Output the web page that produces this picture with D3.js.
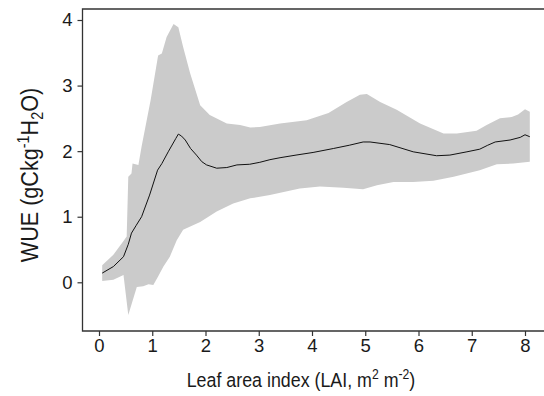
<!DOCTYPE html>
<html>
<head>
<meta charset="utf-8">
<script src="https://cdn.jsdelivr.net/npm/d3@7"></script>
<style>
  body { margin: 0; background: #fff; }
  text { font-family: "Liberation Sans", Arial, sans-serif; fill: #1a1a1a; }
</style>
</head>
<body>
<div id="chart"></div>
<script>
// DATA

// mean WUE line
let meanLai = [0.06, 0.27, 0.46, 0.55, 0.61, 0.70, 0.80, 0.95, 1.10, 1.18, 1.30, 1.44, 1.49, 1.55, 1.62, 1.72, 1.83, 1.93, 2.02, 2.21, 2.40, 2.59, 2.83, 3.02, 3.21, 3.40, 3.70, 4.02, 4.40, 4.70, 4.96, 5.09, 5.46, 5.90, 6.34, 6.59, 6.91, 7.15, 7.30, 7.44, 7.72, 7.91, 8.00, 8.09]
let meanWue = [0.14, 0.24, 0.39, 0.58, 0.75, 0.87, 1.00, 1.33, 1.71, 1.81, 1.99, 2.19, 2.26, 2.23, 2.17, 2.04, 1.94, 1.84, 1.79, 1.74, 1.75, 1.79, 1.80, 1.83, 1.87, 1.90, 1.94, 1.98, 2.04, 2.09, 2.14, 2.14, 2.10, 1.99, 1.93, 1.94, 1.99, 2.03, 2.09, 2.14, 2.17, 2.21, 2.25, 2.22]

// upper edge of the grey band
let upLai = [0.06, 0.27, 0.46, 0.52, 0.55, 0.61, 0.63, 0.74, 0.80, 0.97, 1.11, 1.18, 1.27, 1.40, 1.49, 1.58, 1.71, 1.90, 2.08, 2.40, 2.65, 2.84, 3.02, 3.40, 3.90, 4.31, 4.65, 4.90, 5.03, 5.28, 5.59, 6.03, 6.47, 6.72, 7.09, 7.28, 7.53, 7.75, 7.87, 8.00, 8.09]
let upWue = [0.26, 0.42, 0.63, 0.70, 1.61, 1.66, 1.81, 1.79, 2.07, 2.78, 3.46, 3.49, 3.74, 3.94, 3.89, 3.59, 3.19, 2.70, 2.55, 2.42, 2.40, 2.36, 2.37, 2.42, 2.47, 2.58, 2.75, 2.86, 2.87, 2.75, 2.63, 2.42, 2.27, 2.27, 2.31, 2.40, 2.50, 2.52, 2.56, 2.64, 2.60]

// lower edge of the grey band
let loLai = [0.06, 0.27, 0.46, 0.55, 0.71, 0.83, 0.93, 1.02, 1.11, 1.21, 1.33, 1.46, 1.58, 1.90, 2.21, 2.52, 2.84, 3.21, 3.77, 4.15, 4.59, 4.96, 5.22, 5.53, 5.90, 6.28, 6.66, 7.15, 7.47, 7.78, 8.09]
let loWue = [0.02, 0.04, 0.11, -0.50, -0.07, -0.06, -0.03, -0.04, 0.09, 0.24, 0.39, 0.64, 0.80, 0.92, 1.08, 1.20, 1.28, 1.33, 1.43, 1.46, 1.44, 1.42, 1.48, 1.53, 1.53, 1.55, 1.61, 1.71, 1.80, 1.81, 1.84]

let xTicks = [0, 1, 2, 3, 4, 5, 6, 7, 8]
let yTicks = [0, 1, 2, 3, 4]

// CHART AREA
let W = 544, H = 396
let plot = {left: 82.5, top: 9, right: 548, bottom: 331}

let svg = d3.select("#chart").append("svg")
    .attr("width", W)
    .attr("height", H)

// SCALES
let x = d3.scaleLinear().domain([0, 8]).range([99, 525])
let y = d3.scaleLinear().domain([0, 4]).range([282.3, 20])

// BAND
let band = upLai.map((d, i) => [d, upWue[i]])
    .concat(loLai.map((d, i) => [d, loWue[i]]).reverse())

let poly = d3.line()
    .x(d => x(d[0]))
    .y(d => y(d[1]))

svg.append("path")
    .attr("d", poly(band) + "Z")
    .attr("fill", "#cbcbcb")

// MEAN LINE
svg.append("path")
    .datum(meanLai.map((d, i) => [d, meanWue[i]]))
    .attr("d", poly)
    .attr("fill", "none")
    .attr("stroke", "#111")
    .attr("stroke-width", 1)

// FRAME (right side runs off the page)
svg.append("path")
    .attr("d", `M${plot.right},${plot.top}H${plot.left}V${plot.bottom}H${plot.right}`)
    .attr("fill", "none")
    .attr("stroke", "#333")
    .attr("stroke-width", 1.3)

// AXES
let xAxis = d3.axisBottom(x).tickValues(xTicks).tickFormat(d3.format("d")).tickSize(5).tickPadding(3)
let yAxis = d3.axisLeft(y).tickValues(yTicks).tickFormat(d3.format("d")).tickSize(5).tickPadding(5)

let gx = svg.append("g")
    .attr("transform", "translate(0," + plot.bottom + ")")
    .call(xAxis)
let gy = svg.append("g")
    .attr("transform", "translate(" + plot.left + ",0)")
    .call(yAxis)

svg.selectAll(".domain").remove()
svg.selectAll(".tick line").attr("stroke", "#333").attr("stroke-width", 1.2)
svg.selectAll(".tick text")
    .attr("font-size", 18.5)
    .attr("font-family", "Liberation Sans, Arial, sans-serif")
    .attr("fill", "#1a1a1a")

// AXIS TITLES
let ytitle = svg.append("text")
    .attr("transform", "translate(38,175) rotate(-90) scale(0.9,1)")
    .attr("text-anchor", "middle")
    .attr("font-size", 24)
ytitle.append("tspan").text("WUE (gCkg")
ytitle.append("tspan").attr("font-size", 16).attr("dy", -9).text("-1")
ytitle.append("tspan").attr("dy", 9).text("H")
ytitle.append("tspan").attr("font-size", 16).attr("dy", 5).text("2")
ytitle.append("tspan").attr("dy", -5).text("O)")

let xtitle = svg.append("text")
    .attr("transform", "translate(301,387) scale(0.87,1)")
    .attr("text-anchor", "middle")
    .attr("font-size", 20.5)
xtitle.append("tspan").text("Leaf area index (LAI, m")
xtitle.append("tspan").attr("font-size", 14).attr("dy", -8).text("2")
xtitle.append("tspan").attr("dy", 8).text(" m")
xtitle.append("tspan").attr("font-size", 14).attr("dy", -8).text("-2")
xtitle.append("tspan").attr("dy", 8).text(")")
</script>
</body>
</html>
